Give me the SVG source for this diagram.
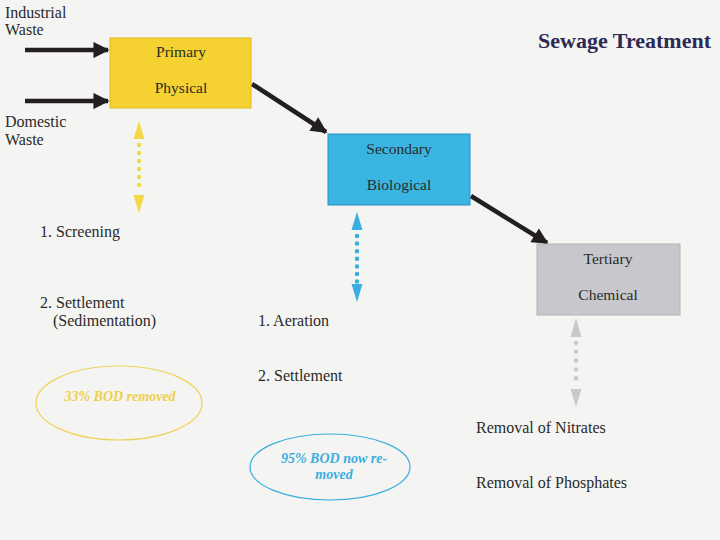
<svg xmlns="http://www.w3.org/2000/svg" width="720" height="540" viewBox="0 0 720 540">
<style>
.t{font-family:'Liberation Serif',serif;font-size:16px;fill:#2a2a2a}
.bx{font-family:'Liberation Serif',serif;font-size:15.5px;fill:#2a2a2a;text-anchor:middle}
.el{font-family:'Liberation Serif',serif;font-size:14px;font-style:italic;font-weight:bold;text-anchor:middle}
.blk{stroke:#231f20;stroke-width:4.5;fill:none}
.dl{stroke-width:4.5;stroke-linecap:round;fill:none}
</style>
<defs>
<marker id="ah" viewBox="0 0 10 10" refX="9" refY="5" markerWidth="4" markerHeight="3.6" orient="auto" markerUnits="strokeWidth">
<path d="M0,0 L10,5 L0,10 Z" fill="#231f20"/>
</marker>
</defs>
<rect width="720" height="540" fill="#f4f4f2"/>
<text x="711" y="48" text-anchor="end" style="font-family:'Liberation Serif',serif;font-size:22px;font-weight:bold;fill:#2d2a55">Sewage Treatment</text>
<g id="connectors">
<line class="blk" x1="25" y1="50" x2="108" y2="50" marker-end="url(#ah)"/>
<line class="blk" x1="25" y1="101" x2="108" y2="101" marker-end="url(#ah)"/>
<line class="blk" x1="252" y1="84" x2="326" y2="132" marker-end="url(#ah)"/>
<line class="blk" x1="471" y1="196" x2="547" y2="243" marker-end="url(#ah)"/>
<g id="dot-yellow" fill="#f5d84a">
<path d="M139,121 L133.5,139 L144.5,139 Z"/>
<path d="M139,213 L133.5,195 L144.5,195 Z"/>
<line class="dl" x1="139" y1="145" x2="139" y2="193" stroke="#f5d84a" stroke-dasharray="0 8"/>
</g>
<g id="dot-blue" fill="#3aaee0">
<path d="M357,212 L351.5,230 L362.5,230 Z"/>
<path d="M357,302 L351.5,284 L362.5,284 Z"/>
<line class="dl" x1="357" y1="236" x2="357" y2="282" stroke="#3aaee0" stroke-dasharray="0 7.6"/>
</g>
<g id="dot-gray" fill="#c9c9cc">
<path d="M576,318 L570.5,337 L581.5,337 Z"/>
<path d="M576,407 L570.5,389 L581.5,389 Z"/>
<line class="dl" x1="576" y1="343" x2="576" y2="387" stroke="#c9c9cc" stroke-dasharray="0 8.8"/>
</g>
</g>
<g id="industrial"><text class="t" x="5" y="18">Industrial</text><text class="t" x="5" y="35">Waste</text></g>
<g id="domestic"><text class="t" x="5" y="127">Domestic</text><text class="t" x="5" y="145">Waste</text></g>
<g id="primary">
<rect x="110" y="38" width="141" height="70" fill="#f5d232" stroke="#e0b820" stroke-width="1"/>
<text class="bx" x="181" y="57">Primary</text>
<text class="bx" x="181" y="93">Physical</text>
</g>
<g id="secondary">
<rect x="328" y="134" width="142" height="71" fill="#3ab5e2" stroke="#2a8fc0" stroke-width="1"/>
<text class="bx" x="399" y="154">Secondary</text>
<text class="bx" x="399" y="190">Biological</text>
</g>
<g id="tertiary">
<rect x="537" y="244" width="143" height="71" fill="#c8c8cc" stroke="#b0b0b6" stroke-width="1"/>
<text class="bx" x="608" y="264">Tertiary</text>
<text class="bx" x="608" y="300">Chemical</text>
</g>
<g id="primary-steps">
<text class="t" x="40" y="237">1. Screening</text>
<text class="t" x="40" y="308">2. Settlement</text>
<text class="t" x="53" y="326">(Sedimentation)</text>
</g>
<g id="secondary-steps">
<text class="t" x="258" y="326">1. Aeration</text>
<text class="t" x="258" y="381">2. Settlement</text>
</g>
<g id="tertiary-steps">
<text class="t" x="476" y="433">Removal of Nitrates</text>
<text class="t" x="476" y="488">Removal of Phosphates</text>
</g>
<g id="bod33">
<ellipse cx="119" cy="403" rx="83" ry="37" fill="none" stroke="#f0d25a" stroke-width="1.2"/>
<text class="el" x="120" y="401" fill="#efd04a">33% BOD removed</text>
</g>
<g id="bod95">
<ellipse cx="330" cy="467" rx="80" ry="33" fill="none" stroke="#3aaee0" stroke-width="1.2"/>
<text class="el" x="334" y="463" fill="#3aaee0">95% BOD now re-</text>
<text class="el" x="334" y="479" fill="#3aaee0">moved</text>
</g>
</svg>
